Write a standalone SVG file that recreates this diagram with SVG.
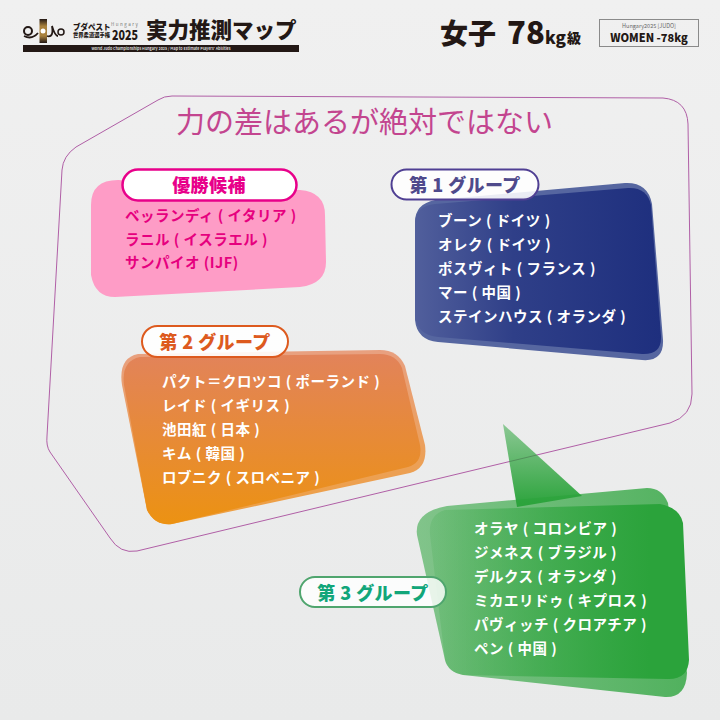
<svg xmlns="http://www.w3.org/2000/svg" width="720" height="720" viewBox="0 0 720 720">
<defs>
<linearGradient id="bg" x1="0" y1="0" x2="0" y2="1"><stop offset="0" stop-color="#f0f0f0"/><stop offset="1" stop-color="#e9eaea"/></linearGradient>
<linearGradient id="navy" x1="0" y1="0" x2="1" y2="0"><stop offset="0" stop-color="#515f9c"/><stop offset="0.4" stop-color="#2f3f88"/><stop offset="1" stop-color="#1e2f7e"/></linearGradient>
<linearGradient id="orange" x1="0" y1="0" x2="0" y2="1"><stop offset="0" stop-color="#e2835a"/><stop offset="1" stop-color="#ec9212"/></linearGradient>
<linearGradient id="orangeRim" x1="0" y1="0" x2="0" y2="1"><stop offset="0" stop-color="#e8a080"/><stop offset="1" stop-color="#eea040"/></linearGradient>
<linearGradient id="greenB" x1="0" y1="0" x2="1" y2="0"><stop offset="0" stop-color="#2ba33b" stop-opacity=".55"/><stop offset="1" stop-color="#2ba33b" stop-opacity=".8"/></linearGradient>
<linearGradient id="greenF" x1="0" y1="0" x2="1" y2="0"><stop offset="0" stop-color="#2ba33b" stop-opacity="0.15"/><stop offset="0.85" stop-color="#2ba33b"/></linearGradient>
<linearGradient id="greenT" x1="0" y1="0" x2="0" y2="1"><stop offset="0" stop-color="#2ba33b" stop-opacity="0.5"/><stop offset="1" stop-color="#2ba33b"/></linearGradient>
<linearGradient id="gold" x1="0" y1="0" x2="0" y2="1"><stop offset="0" stop-color="#231815"/><stop offset=".3" stop-color="#a8813c"/><stop offset=".7" stop-color="#a8813c"/><stop offset="1" stop-color="#231815"/></linearGradient>
</defs>
<style>
text{font-family:"Noto Sans CJK JP","Noto Sans",sans-serif;font-weight:900}
.w{fill:#fff;font-size:14.5px;letter-spacing:.5px;font-weight:700}
.p{fill:#e6007e;font-size:14.5px;letter-spacing:.5px;font-weight:700}
.pill{font-size:18px;text-anchor:middle;letter-spacing:.4px}
.k{fill:#231815}
</style>
<rect width="720" height="720" fill="url(#bg)"/>
<g id="header">
<rect x="23" y="45" width="276" height="7" fill="#231815"/>
<text x="161" y="50" font-size="3.7" fill="#ddd" text-anchor="middle" style="font-weight:700">World Judo Championships Hungary 2025 / Map to Estimate Players' Abilities</text>
<g id="logo"><rect x="39.500" y="19" width="7.500" height="24" fill="url(#gold)"/><circle cx="43" cy="31" r="2.500" fill="#fff"/><circle cx="28" cy="31" r="4" fill="none" stroke="#231815" stroke-width="2"/><circle cx="61" cy="32" r="3" fill="none" stroke="#231815" stroke-width="1.500"/><path d="M24 36Q32 40 38 33M47 36Q54 38 52 26Q55 36 58 36" fill="none" stroke="#231815" stroke-width="1.800"/></g>
<text x="73" y="30" font-size="7.500" class="k">ブダペスト</text>
<text x="73" y="36.500" font-size="5.300" class="k">世界柔道選手権</text>
<text x="111" y="25.500" font-size="4.500" fill="#777" letter-spacing="1.500" style="font-weight:400">Hungary</text>
<text x="112" y="39.500" font-size="13" class="k" textLength="26" lengthAdjust="spacingAndGlyphs">2025</text>
<text x="146" y="38" font-size="21.500" class="k">実力推測マップ</text>
<text x="440" y="44" font-size="28" class="k">女子</text>
<text x="507" y="44" font-size="31" class="k">78</text>
<text x="545" y="44" font-size="17" class="k">kg</text>
<text x="567" y="43" font-size="14" class="k">級</text>
<rect x="599.500" y="19.500" width="99" height="27" fill="none" stroke="#8a8a8a"/>
<text x="649" y="28" font-size="5.500" fill="#666" text-anchor="middle" style="font-weight:400">Hungary2025 [JUDO]</text>
<text x="649" y="42" font-size="11" class="k" text-anchor="middle">WOMEN -78kg</text>
</g>
<path id="outline" d="M172 96L663 98Q687 100 688 124L692 394Q692 416 670 423L137 551Q120 554 110 538L50 452Q46 446 47 436L62 170Q63 156 76 147L158 100Q164 96 172 96Z" fill="none" stroke="#b05fa6" stroke-width="1"/>
<text x="364.500" y="133" font-size="29" fill="#c3458f" text-anchor="middle" style="font-weight:400">力の差はあるが絶対ではない</text>
<g id="group-top">
<path d="M118 180L300 190Q325 192 325 215L326 262Q326 284 300 287L115 297Q95 297 91 275L91 205Q91 180 118 180Z" fill="#fe9cc6"/>
<rect x="122.500" y="169.500" width="174" height="31" rx="15.500" fill="#fff" stroke="#e8008a" stroke-width="2.500"/>
<text class="pill" x="209" y="191.500" fill="#e8008a">優勝候補</text>
<text class="p" x="125" y="221">ベッランディ ( イタリア )</text>
<text class="p" x="125" y="245">ラニル ( イスラエル )</text>
<text class="p" x="125" y="268">サンパイオ (IJF)</text>
</g>
<g id="group-1">
<path d="M435 200L625 183Q648 182 652 204L663 340Q664 362 642 360L438 342Q417 340 415 320L415 222Q415 204 435 200Z" fill="#5666a0"/>
<path d="M435 204L628 188Q647 187 651 205L661 336Q662 355 642 354L438 337Q417 335 415 316L415 224Q415 206 435 204Z" fill="url(#navy)"/>
<rect x="391.500" y="169.500" width="147" height="30" rx="15" fill="#fff" fill-opacity=".88" stroke="#4f3f93" stroke-width="2"/>
<text class="pill" x="465" y="191.500" fill="#4f4a8c">第 1 グループ</text>
<text class="w" x="438" y="226">ブーン ( ドイツ )</text>
<text class="w" x="438" y="250">オレク ( ドイツ )</text>
<text class="w" x="438" y="274">ポスヴィト ( フランス )</text>
<text class="w" x="438" y="298">マー ( 中国 )</text>
<text class="w" x="438" y="322">ステインハウス ( オランダ )</text>
</g>
<g id="group-2">
<path d="M138 354L380 350Q398 350 405 366L425 445Q428 468 410 473L172 524Q155 526 147 510L122 385Q118 358 138 354Z" fill="url(#orangeRim)"/>
<path d="M140 357L380 354Q396 354 402 368L420 445Q423 463 408 467L172 524Q155 526 147 510L124 385Q121 361 140 357Z" fill="url(#orange)"/>
<rect x="142" y="326" width="146" height="31" rx="15.500" fill="#fff" fill-opacity=".9" stroke="#dd5a1e" stroke-width="2"/>
<text class="pill" x="215" y="348.500" fill="#dd5a1e">第 2 グループ</text>
<text class="w" x="162" y="387">パクト＝クロツコ ( ポーランド )</text>
<text class="w" x="162" y="411">レイド ( イギリス )</text>
<text class="w" x="162" y="435">池田紅 ( 日本 )</text>
<text class="w" x="162" y="459">キム ( 韓国 )</text>
<text class="w" x="162" y="483">ロブニク ( スロベニア )</text>
</g>
<g id="group-3">
<path d="M447 506L647 488Q662 488 668 503L687 673Q686 698 665 697L463 675Q448 672 445 660L417 535Q414 512 447 506Z" fill="url(#greenB)"/>
<path d="M445 510L660 504Q680 508 683 523L689 660Q688 680 667 679L463 675Q448 672 445 660L430 535Q428 515 445 510Z" fill="url(#greenF)"/>
<path d="M503 424L582 496L517 507Z" fill="url(#greenT)"/>
<rect x="300" y="577" width="146" height="30" rx="15" fill="#fff" fill-opacity=".82" stroke="#4fa56e" stroke-width="2"/>
<text class="pill" x="373" y="599.500" fill="#12a67a">第 3 グループ</text>
<text class="w" x="474" y="534">オラヤ ( コロンビア )</text>
<text class="w" x="474" y="558">ジメネス ( ブラジル )</text>
<text class="w" x="474" y="582">デルクス ( オランダ )</text>
<text class="w" x="474" y="606">ミカエリドゥ ( キプロス )</text>
<text class="w" x="474" y="630">パヴィッチ ( クロアチア )</text>
<text class="w" x="474" y="654">ペン ( 中国 )</text>
</g>
</svg>
